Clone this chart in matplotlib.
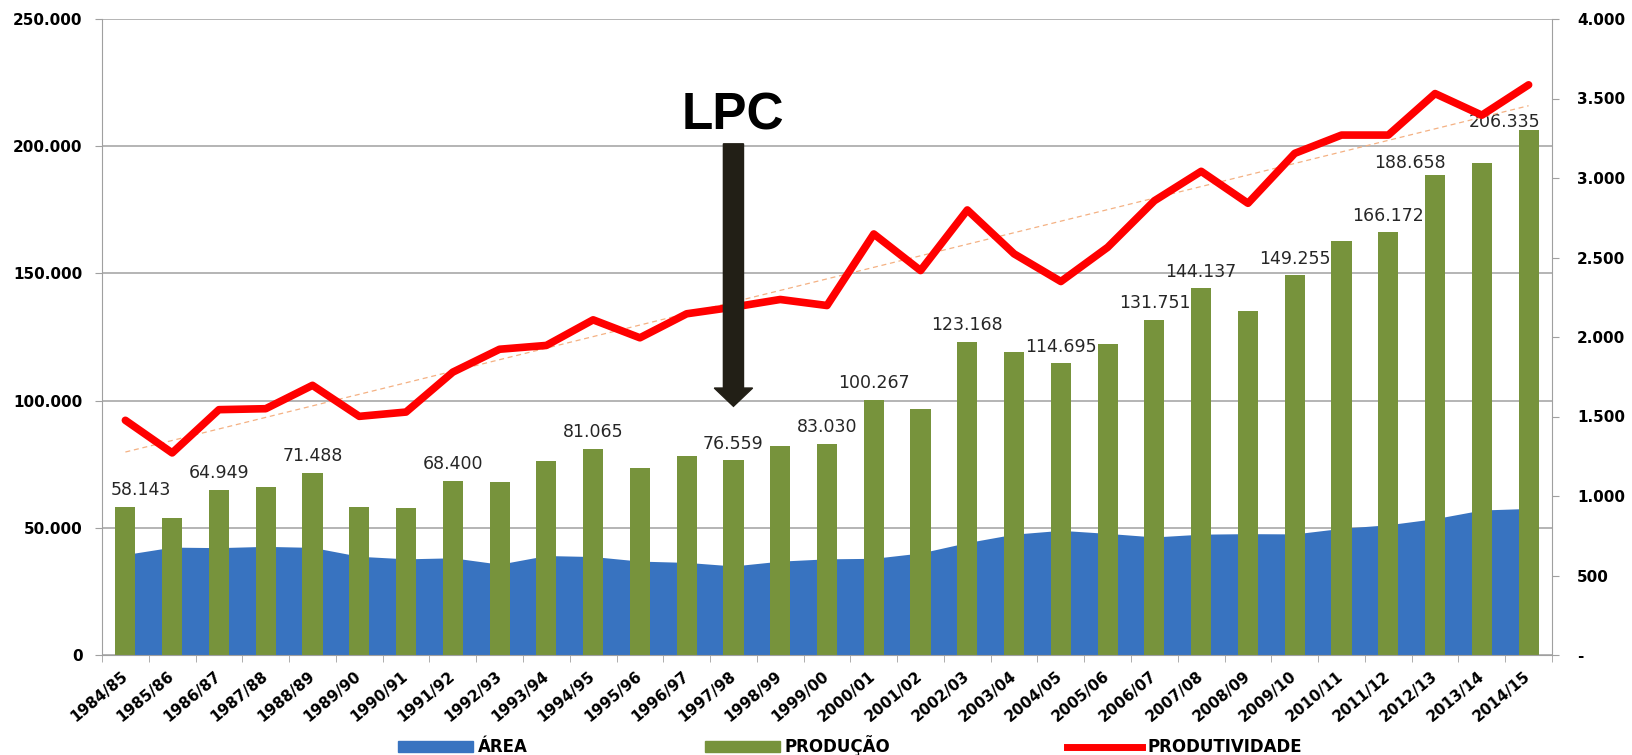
import matplotlib
matplotlib.use('Agg')
import matplotlib.pyplot as plt
import numpy as np
from matplotlib.patches import Patch
from matplotlib.lines import Line2D

safras = ['1984/85', '1985/86', '1986/87', '1987/88', '1988/89', '1989/90', '1990/91',
          '1991/92', '1992/93', '1993/94', '1994/95', '1995/96', '1996/97', '1997/98',
          '1998/99', '1999/00', '2000/01', '2001/02', '2002/03', '2003/04', '2004/05',
          '2005/06', '2006/07', '2007/08', '2008/09', '2009/10', '2010/11', '2011/12',
          '2012/13', '2013/14', '2014/15']

# producao (t), area (ha), produtividade (kg/ha)
producao = [58143, 53900, 64949, 66100, 71488, 58000, 57600, 68400, 68000, 76200,
            81065, 73600, 78400, 76559, 82200, 83030, 100267, 96800, 123168, 119000,
            114695, 122400, 131751, 144137, 135200, 149255, 162600, 166172, 188658,
            193500, 206335]
area = [39500, 42400, 42200, 42700, 42300, 38800, 37800, 38200, 35700, 39100,
        38700, 36900, 36400, 35000, 36900, 37800, 38000, 40100, 44200, 47500,
        49000, 47800, 46400, 47500, 47700, 47600, 49800, 51200, 53600, 57000, 57600]
produtividade = [1476, 1271, 1543, 1549, 1696, 1501, 1528, 1779, 1923, 1947,
                 2108, 1995, 2146, 2188, 2236, 2198, 2648, 2418, 2799, 2523,
                 2349, 2564, 2857, 3042, 2841, 3155, 3270, 3270, 3531, 3395, 3586]

# safras com rotulo de producao
rotulados = [0, 2, 4, 7, 10, 13, 15, 16, 18, 20, 22, 23, 25, 27, 28, 30]

ticks_esq = [0, 50000, 100000, 150000, 200000, 250000]
ticks_dir = [0, 500, 1000, 1500, 2000, 2500, 3000, 3500, 4000]


def br(v):
    return f'{v:,.0f}'.replace(',', '.')


W, H = 1633, 755
fig = plt.figure(figsize=(W / 100, H / 100), dpi=100)
ax = fig.add_axes([102 / W, 100 / H, 1450 / W, 636 / H])

x = np.arange(len(safras))
cinza = '#a0a0a0'

ax.fill_between(x, area, color='#3873c0', linewidth=0, zorder=1)
ax.bar(x, producao, width=0.43, color='#77933c', zorder=2)

ax.set_xlim(-0.5, len(safras) - 0.5)
ax.set_ylim(0, 250000)
ax.set_axisbelow(True)
ax.yaxis.grid(True, color=cinza, linewidth=1.1)

ax.set_yticks(ticks_esq)
ax.set_yticklabels([br(v) for v in ticks_esq])
ax.tick_params(axis='y', length=5, color=cinza, pad=9, labelsize=11)
for t in ax.get_yticklabels():
    t.set_fontweight('bold')

ax.set_xticks(x)
ax.set_xticklabels(safras, rotation=40, ha='right', va='center',
                   rotation_mode='anchor', fontsize=11, fontweight='bold')
ax.set_xticks(np.arange(len(safras) + 1) - 0.5, minor=True)
ax.tick_params(axis='x', which='major', length=0, pad=14)
ax.tick_params(axis='x', which='minor', length=5, color=cinza)

for s in ['top', 'right']:
    ax.spines[s].set_visible(False)
for s in ['left', 'bottom']:
    ax.spines[s].set_color(cinza)

offsets = {0: (11, 12), 28: (-18, 9), 30: (-17, 6)}
for i in rotulados:
    ax.annotate(br(producao[i]), (x[i], producao[i]), xytext=offsets.get(i, (0, 12)),
                textcoords='offset points', ha='center', va='center',
                fontsize=12.5, color='#262626', zorder=5)

ax2 = ax.twinx()
ax2.set_ylim(0, 4000)
tendencia = np.polyval(np.polyfit(x, produtividade, 1), x)
ax2.plot(x, tendencia, color='#f4b183', linewidth=0.9, linestyle=(0, (4, 3)), zorder=2)
ax2.plot(x, produtividade, color='#ff0000', linewidth=5.5, solid_joinstyle='round',
         solid_capstyle='round', zorder=3)

ax2.set_yticks(ticks_dir)
ax2.set_yticklabels(['-'] + [br(v) for v in ticks_dir[1:]])
ax2.tick_params(axis='y', length=5, color=cinza, pad=13, labelsize=11)
for t in ax2.get_yticklabels():
    t.set_fontweight('bold')
for s in ['top', 'left', 'bottom']:
    ax2.spines[s].set_visible(False)
ax2.spines['right'].set_color(cinza)

# seta LPC em 1997/98
ax2.arrow(13, 3215, 0, -1651, width=0.43, head_width=0.82, head_length=115,
          length_includes_head=True, color='#221f16', zorder=6)
fig.text(733 / W, 1 - 130 / H, 'LPC', fontsize=37, fontweight='bold',
         family='Liberation Sans', ha='center', va='baseline')

handles = [Patch(color='#3873c0'), Patch(color='#77933c'),
           Line2D([0], [0], color='#ff0000', linewidth=5)]
fig.legend(handles, ['ÁREA', 'PRODUÇÃO', 'PRODUTIVIDADE'], loc='center',
           bbox_to_anchor=(850 / W, 9 / H), ncol=3, frameon=False,
           prop={'size': 12, 'weight': 'bold'}, handlelength=4.5,
           handletextpad=0.3, columnspacing=10.6)

fig.savefig('out.png', dpi=100)
